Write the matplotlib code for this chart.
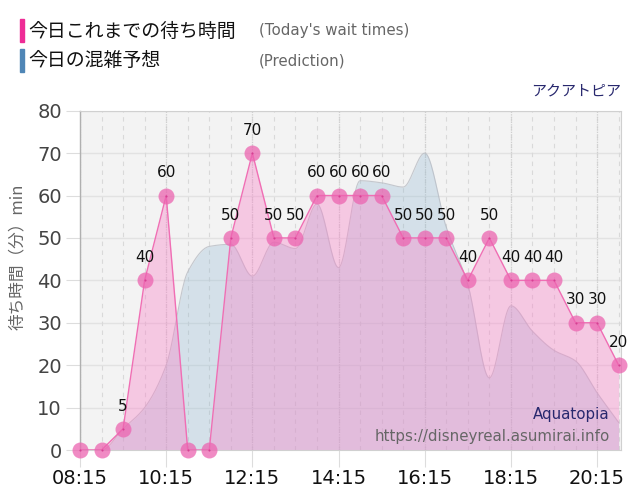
import numpy as np
import matplotlib
matplotlib.use("Agg")
import matplotlib.pyplot as plt

plt.rcParams['font.family'] = ['DejaVu Sans', 'Noto Sans CJK JP']

# ---- data ----
times = ["08:15", "08:45", "09:15", "09:45", "10:15", "10:45", "11:15", "11:45",
         "12:15", "12:45", "13:15", "13:45", "14:15", "14:45", "15:15", "15:45",
         "16:15", "16:45", "17:15", "17:45", "18:15", "18:45", "19:15", "19:45",
         "20:15", "20:45"]
wait = [0, 0, 5, 40, 60, 0, 0, 50, 70, 50, 50, 60, 60, 60, 60, 50, 50, 50,
        40, 50, 40, 40, 40, 30, 30, 20]
pred = [0, 0, 5, 10, 20, 42, 48, 48.5, 41, 49, 47.5, 58, 43, 63.5, 63, 62,
        70, 52.5, 39, 17, 34, 28, 23.5, 21, 13.5, 6.5]
xtick_labels = ["08:15", "10:15", "12:15", "14:15", "16:15", "18:15", "20:15"]
yticks = [0, 10, 20, 30, 40, 50, 60, 70, 80]


def to_hours(s):
    h, m = s.split(":")
    return int(h) + int(m) / 60.0


x = np.array([to_hours(t) for t in times])
w = np.array(wait, dtype=float)
p = np.array(pred, dtype=float)


def monotone_curve(xs, ys, n=20):
    # Fritsch-Carlson monotone cubic, for drawing a smooth line through points
    xs = np.asarray(xs, float); ys = np.asarray(ys, float)
    h = np.diff(xs); d = np.diff(ys) / h
    m = np.zeros_like(ys)
    m[0] = d[0]; m[-1] = d[-1]
    for i in range(1, len(ys) - 1):
        if d[i - 1] * d[i] <= 0:
            m[i] = 0
        else:
            w1 = 2 * h[i] + h[i - 1]; w2 = h[i] + 2 * h[i - 1]
            m[i] = (w1 + w2) / (w1 / d[i - 1] + w2 / d[i])
    X = []; Y = []
    for i in range(len(xs) - 1):
        t = np.linspace(0, 1, n, endpoint=False)
        h00 = 2 * t**3 - 3 * t**2 + 1; h10 = t**3 - 2 * t**2 + t
        h01 = -2 * t**3 + 3 * t**2; h11 = t**3 - t**2
        X.append(xs[i] + t * h[i])
        Y.append(h00 * ys[i] + h10 * h[i] * m[i] + h01 * ys[i + 1] + h11 * h[i] * m[i + 1])
    X.append([xs[-1]]); Y.append([ys[-1]])
    return np.concatenate(X), np.concatenate(Y)


fig = plt.figure(figsize=(6.4, 5.0), dpi=100)
ax = fig.add_axes([0.125, 0.10, 0.845, 0.6786])
ax.set_facecolor('#f3f3f3')

# grid
for yv in yticks[1:]:
    ax.axhline(yv, color='#e2e2e2', lw=1.0, zorder=0.5)
minor = np.arange(8.25, 20.8, 0.5)
for xv in minor:
    ax.axvline(xv, color='#d9d9d9', lw=0.8, ls=(0, (4, 4)), zorder=0.5)
major = [to_hours(t) for t in xtick_labels]
for xv in major:
    ax.axvline(xv, color='#cfcfcf', lw=0.9, ls=(0, (1, 1)), zorder=0.6)

# prediction area
px, py = monotone_curve(x, p)
ax.fill_between(px, 0, py, color=(143/255, 183/255, 210/255), alpha=0.3, lw=0, zorder=1)
ax.plot(px, py, color='#b8bcc4', lw=0.8, alpha=0.8, zorder=1.1)

# today's wait area
ax.fill_between(x, 0, w, color=(250/255, 130/255, 200/255), alpha=0.38, lw=0, zorder=2)
ax.plot(x, w, color='#f06eb4', lw=1.0, zorder=3)
ax.plot(x, w, 'o', ms=11.5, color='#ec64b0', alpha=0.75, mec='none', zorder=4, clip_on=False)
ax.plot(x, w, 'o', ms=1.5, color='#d63f92', mec='none', zorder=5, clip_on=False)

for xi, wi in zip(x, w):
    if wi > 0:
        ax.annotate(f"{int(wi)}", (xi, wi), xytext=(0, 11), textcoords='offset points',
                    ha='center', va='bottom', fontsize=11, color='#111111', zorder=6)

ax.set_xlim(8.25, 20.8)
ax.set_ylim(0, 80)
ax.set_yticks(yticks)
ax.set_yticklabels([str(v) for v in yticks])
ax.set_xticks(major)
ax.set_xticklabels(xtick_labels)
ax.tick_params(axis='y', length=10, color='#dddddd', labelsize=14, labelcolor='#444444', pad=3)
ax.tick_params(axis='x', length=12, color='#dddddd', labelsize=14, labelcolor='#111111', pad=2)

for side in ['top', 'right', 'bottom']:
    ax.spines[side].set_color('#d0d0d0')
    ax.spines[side].set_linestyle((0, (1, 1)))
    ax.spines[side].set_linewidth(0.8)
ax.spines['left'].set_color('#b0b0b0')
ax.spines['left'].set_linewidth(1.0)

fig.text(0.027, 0.487, "待ち時間（分）min", rotation=90, ha='center', va='center',
         fontsize=12, color='#666666', family=['Noto Sans CJK JP', 'DejaVu Sans'])

# legend
fig.patches.append(plt.Rectangle((0.031, 0.916), 0.0065, 0.046, transform=fig.transFigure,
                                 color='#ee2c96', figure=fig))
fig.patches.append(plt.Rectangle((0.031, 0.856), 0.0065, 0.046, transform=fig.transFigure,
                                 color='#4f86b6', figure=fig))
fig.text(0.044, 0.938, "今日これまでの待ち時間", fontsize=13.6, color='#111111', va='center',
         family=['Noto Sans CJK JP', 'DejaVu Sans'])
fig.text(0.044, 0.878, "今日の混雑予想", fontsize=13.6, color='#111111', va='center',
         family=['Noto Sans CJK JP', 'DejaVu Sans'])
fig.text(0.405, 0.938, "(Today's wait times)", fontsize=10.8, color='#666666', va='center')
fig.text(0.405, 0.878, "(Prediction)", fontsize=10.8, color='#666666', va='center')

fig.text(0.970, 0.818, "アクアトピア", fontsize=10.8, color='#28286e', ha='right', va='center',
         family=['Noto Sans CJK JP', 'DejaVu Sans'])
fig.text(0.953, 0.172, "Aquatopia", fontsize=10.8, color='#28286e', ha='right', va='center')
fig.text(0.953, 0.128, "https://disneyreal.asumirai.info", fontsize=10.8, color='#666666',
         ha='right', va='center')

fig.savefig("out.png", dpi=100)
